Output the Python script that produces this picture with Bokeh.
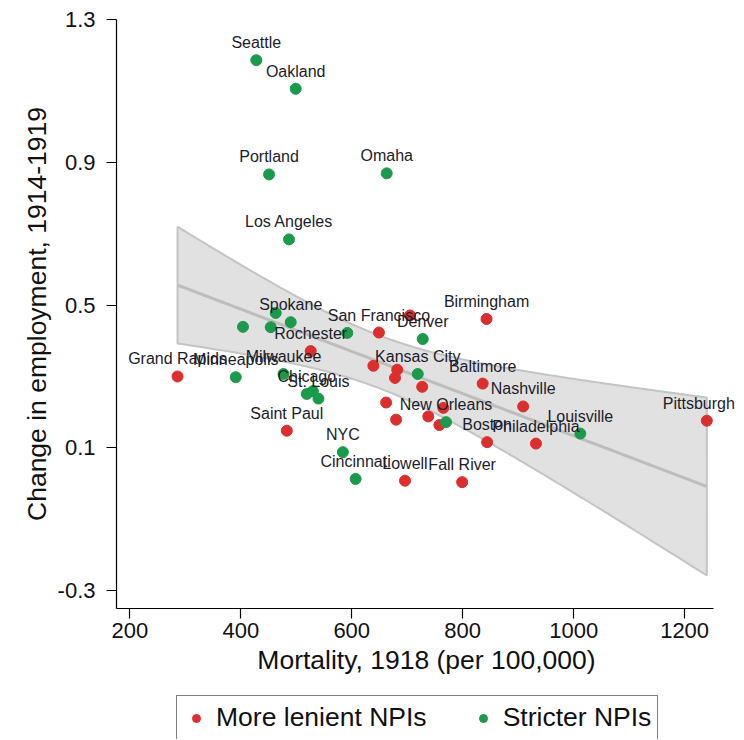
import numpy as np
from bokeh.plotting import figure
from bokeh.layouts import column
from bokeh.models import (ColumnDataSource, FixedTicker, Legend, LegendItem,
                          Range1d, LabelSet)
from bokeh.core.properties import value
from bokeh.embed import file_html
from bokeh.resources import INLINE

# ---- data: more lenient NPIs (red) ----
lenient_mort = [286, 483, 526, 649, 705, 843, 639, 682, 678, 727, 836, 909,
                662, 680, 738, 758, 765, 844, 932, 1240, 696, 799]
lenient_emp = [0.300, 0.148, 0.371, 0.423, 0.471, 0.461, 0.330, 0.319, 0.296,
               0.271, 0.280, 0.216, 0.227, 0.179, 0.188, 0.164, 0.212, 0.116,
               0.112, 0.176, 0.008, 0.004]
lenient_city = ["Grand Rapids", "Saint Paul", "Rochester", "San Francisco", "",
                "Birmingham", "", "", "", "", "Baltimore", "Nashville", "", "",
                "", "", "", "Boston", "Philadelphia", "Pittsburgh", "Lowell",
                "Fall River"]

# ---- data: stricter NPIs (green) ----
strict_mort = [428, 499, 451, 663, 487, 490, 463, 404, 454, 592, 728, 477, 391,
               519, 530, 540, 719, 770, 1012, 584, 607]
strict_emp = [1.186, 1.106, 0.866, 0.869, 0.684, 0.452, 0.478, 0.439, 0.438,
              0.422, 0.405, 0.307, 0.298, 0.251, 0.259, 0.238, 0.307, 0.172,
              0.140, 0.088, 0.013]
strict_city = ["Seattle", "Oakland", "Portland", "Omaha", "Los Angeles",
               "Spokane", "", "", "", "", "Denver", "Milwaukee", "Minneapolis",
               "Chicago", "", "St. Louis", "Kansas City", "New Orleans",
               "Louisville", "NYC", "Cincinnati"]

x_ticks = [200, 400, 600, 800, 1000, 1200]
y_ticks = [-0.3, 0.1, 0.5, 0.9, 1.3]
y_tick_labels = ["-0.3", "0.1", "0.5", "0.9", "1.3"]
x_axis_span = (176, 1252)

RED = "#dc2e2c"
GREEN = "#1c9a4c"
FONT = "Liberation Sans"

# ---- linear fit with 95% CI (computed from the data) ----
xa = np.array(lenient_mort + strict_mort, dtype=float)
ya = np.array(lenient_emp + strict_emp, dtype=float)
n = len(xa)
slope, intercept = np.polyfit(xa, ya, 1)
resid = ya - (intercept + slope * xa)
s = np.sqrt(np.sum(resid ** 2) / (n - 2))
sxx = np.sum((xa - xa.mean()) ** 2)
t_crit = 2.0195
xs = np.linspace(xa.min(), xa.max(), 120)
yhat = intercept + slope * xs
half = t_crit * s * np.sqrt(1.0 / n + (xs - xa.mean()) ** 2 / sxx)
lo, hi = yhat - half, yhat + half

p = figure(frame_width=620, frame_height=589, output_backend="svg",
           toolbar_location=None,
           x_range=Range1d(176, 1293.5), y_range=Range1d(-0.35, 1.30),
           min_border_left=116, min_border_top=19, min_border_right=0,
           min_border_bottom=80)
p.outline_line_color = None
p.xgrid.grid_line_color = None
p.ygrid.grid_line_color = None
p.background_fill_color = "white"
p.border_fill_color = "white"

p.patch(list(xs) + list(xs[::-1]), list(hi) + list(lo[::-1]),
        fill_color="#e1e1e1", line_color="#c4c4c4", line_width=2)
p.line(xs, yhat, line_color="#bdbdbd", line_width=3)

src_r = ColumnDataSource(dict(x=lenient_mort, y=lenient_emp, t=lenient_city))
src_g = ColumnDataSource(dict(x=strict_mort, y=strict_emp, t=strict_city))
p.scatter("x", "y", source=src_r, size=11, fill_color=RED, line_color=RED)
p.scatter("x", "y", source=src_g, size=11, fill_color=GREEN, line_color=GREEN)


def split_labels(xv, yv, tv):
    """Split labels into those inside the plot and those at its right edge."""
    inner = dict(x=[], y=[], t=[])
    edge = dict(x=[], y=[], t=[])
    for a, b, c in zip(xv, yv, tv):
        d = edge if a > x_ticks[-1] else inner
        d["x"].append(a)
        d["y"].append(b)
        d["t"].append(c)
    return ColumnDataSource(inner), ColumnDataSource(edge)


for xv, yv, tv in ((lenient_mort, lenient_emp, lenient_city),
                   (strict_mort, strict_emp, strict_city)):
    inner_src, edge_src = split_labels(xv, yv, tv)
    for lsrc, xoff in ((inner_src, 0), (edge_src, -8)):
        p.add_layout(LabelSet(x="x", y="y", text="t", source=lsrc,
                              text_align="center", text_baseline="bottom",
                              x_offset=xoff, y_offset=9, text_font=value(FONT),
                              text_font_size="16px", text_color="#1c1c2a"))

# axes
p.xaxis.ticker = FixedTicker(ticks=x_ticks)
p.xaxis.bounds = x_axis_span
p.yaxis.ticker = FixedTicker(ticks=y_ticks)
p.yaxis.major_label_overrides = {v: l for v, l in zip(y_ticks, y_tick_labels)}
p.xaxis.axis_label = "Mortality, 1918 (per 100,000)"
p.yaxis.axis_label = "Change in employment, 1914-1919"
for ax in (p.xaxis, p.yaxis):
    ax.axis_line_color = "black"
    ax.axis_line_width = 1.2
    ax.major_tick_line_color = "black"
    ax.major_tick_line_width = 1.2
    ax.major_tick_out = 10
    ax.major_tick_in = 0
    ax.minor_tick_line_color = None
    ax.major_label_text_font = FONT
    ax.major_label_text_font_size = "22px"
    ax.major_label_text_color = "#111111"
    ax.axis_label_text_font = FONT
    ax.axis_label_text_font_size = "26.5px"
    ax.axis_label_text_font_style = "normal"
    ax.axis_label_text_color = "#111111"
p.xaxis.major_label_standoff = 4
p.xaxis.axis_label_standoff = 4
p.yaxis.major_label_standoff = 11
p.yaxis.axis_label_standoff = 3

# ---- legend strip below the chart (its glyphs lie outside its ranges) ----
lf = figure(width=736, height=51, output_backend="svg", toolbar_location=None,
            x_axis_type=None, y_axis_type=None,
            x_range=Range1d(0, 1), y_range=Range1d(0, 1), min_border=0)
lf.outline_line_color = None
lf.xgrid.grid_line_color = None
lf.ygrid.grid_line_color = None
lr = lf.scatter("x", "y", source=src_r, size=9, fill_color=RED, line_color=RED)
lg = lf.scatter("x", "y", source=src_g, size=9, fill_color=GREEN, line_color=GREEN)
legend = Legend(items=[LegendItem(label="More lenient NPIs", renderers=[lr]),
                       LegendItem(label="Stricter NPIs", renderers=[lg])],
                orientation="horizontal", location=(60, -1),
                border_line_color="black", border_line_width=1,
                background_fill_color="white",
                label_text_font=FONT, label_text_font_size="26.5px",
                label_text_color="#111111",
                glyph_width=26, glyph_height=20, label_standoff=7,
                spacing=43, padding=6, margin=0)
lf.add_layout(legend, "center")

layout = column(p, lf, spacing=0)
open("out.html", "w").write(file_html(layout, INLINE))
